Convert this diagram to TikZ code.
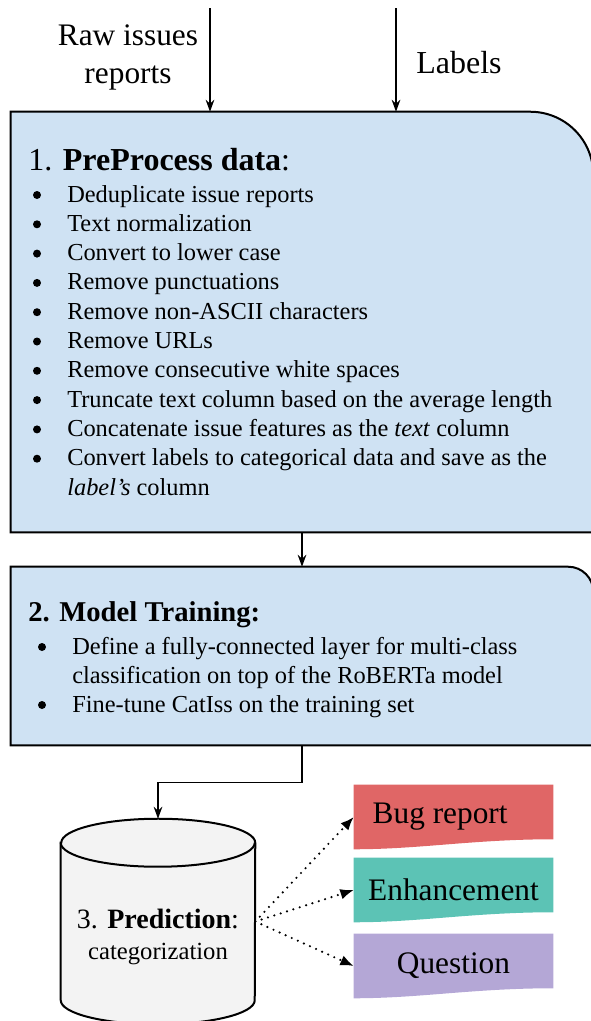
\documentclass[tikz,border=0pt]{standalone}
\usepackage{fontspec}
\setmainfont{Liberation Serif}
\usetikzlibrary{positioning,arrows.meta,backgrounds}

\definecolor{stepblue}{HTML}{CFE2F3}
\definecolor{bugred}{HTML}{E06666}
\definecolor{enhgreen}{HTML}{5CC3B5}
\definecolor{quepurple}{HTML}{B4A7D6}
\definecolor{dbgray}{HTML}{F3F3F3}

\begin{document}
\begin{tikzpicture}[x=0.75pt,y=-0.75pt]
  \tikzset{
    stepframe/.style={draw=none,inner sep=0pt,minimum width=436.5pt},
    boxline/.style={draw=black,line width=1.5pt,fill=stepblue},
    dbline/.style={draw=black,line width=1.5pt,fill=dbgray},
    flow/.style={line width=1.1pt,-{Stealth[length=9pt,width=6.5pt]}},
    guess/.style={line width=1.8pt,line cap=round,dash pattern=on 0pt off 5pt,-{Latex[length=10pt,width=8pt]}},
    doc/.style={inner sep=0pt,minimum width=149.25pt,minimum height=48pt,font=\fontsize{23.5}{28}\selectfont},
    item/.style={anchor=base west,inner sep=0pt,font=\fontsize{18.3}{22}\selectfont},
    head/.style={anchor=base west,inner sep=0pt},
    dot/.style={fill=black}
  }
  \useasboundingbox (0,0) rectangle (590,1021);

  % inputs
  \node[align=center,font=\fontsize{23.5}{28.5}\selectfont] (raw) at (128,57) {Raw issues\\reports};
  \node[font=\fontsize{24}{28}\selectfont] (lbl) at (459,63) {Labels};
  \coordinate (rawin) at (210,8);
  \coordinate (lblin) at (396,8);

  % step 1
  \node[stepframe,minimum height=315pt] (pre) at (302,322) {};
  \node[head,font=\fontsize{24}{28}\selectfont] (pretitle) at (28,170) {1. \textbf{PreProcess data}:};
  \foreach \txt [count=\i from 0] in {Deduplicate issue reports, Text normalization,
      Convert to lower case, Remove punctuations, Remove non-ASCII characters,
      Remove URLs, Remove consecutive white spaces,
      Truncate text column based on the average length,
      Concatenate issue features as the \textit{text} column,
      Convert labels to categorical data and save as the}
  {
    \node[item] (pre\i) at (67,{202+29.3*\i}) {\txt};
    \fill[dot] (37,{195+29.3*\i}) circle (3pt);
  }
  \node[item] (pre10) at (67,495) {\textit{label's} column};

  % step 2
  \node[stepframe,minimum height=133.5pt] (train) at (302,656) {};
  \node[head,font=\fontsize{21.5}{26}\selectfont] (traintitle) at (28,621) {\textbf{2. Model Training:}};
  \node[item] (train0) at (72,654) {Define a fully-connected layer for multi-class};
  \node[item] (train0b) at (72,683) {classification on top of the RoBERTa model};
  \node[item] (train1) at (72,712) {Fine-tune CatIss on the training set};
  \foreach \y in {647,705}
    \fill[dot] (42,\y) circle (3pt);

  % step 3
  \node[inner sep=0pt,minimum width=145.5pt,minimum height=153.75pt] (db) at (158,921.5) {};
  \node[align=center,font=\fontsize{21}{23.5}\selectfont] (dbtext) at (158,937)
        {3. \textbf{Prediction}:\\{\fontsize{18.5}{22}\selectfont categorization}};

  % categories
  \node[doc] (bug) at (453.5,817) {Bug report\kern20pt};
  \node[doc] (enh) at (453.5,890) {Enhancement};
  \node[doc] (que) at (453.5,966) {Question};

  \begin{scope}[on background layer]
    \draw[boxline] (pre.south east) -- (pre.south west) -- (pre.north west)
      -- ([xshift=-47.25pt]pre.north east) arc[start angle=90,end angle=0,radius=47.25pt] -- cycle;
    \draw[boxline] (train.south east) -- (train.south west) -- (train.north west)
      -- ([xshift=-18.75pt]train.north east) arc[start angle=90,end angle=0,radius=18.75pt] -- cycle;
    \draw[dbline] ([yshift=-18pt]db.north west) -- ([yshift=18pt]db.south west)
      arc[start angle=180,end angle=360,x radius=72.75pt,y radius=18pt]
      -- ([yshift=-18pt]db.north east)
      arc[start angle=0,end angle=180,x radius=72.75pt,y radius=18pt] -- cycle;
    \draw[dbline,fill=none] ([yshift=-18pt]db.north west)
      arc[start angle=180,end angle=360,x radius=72.75pt,y radius=18pt];
    \foreach \c/\col in {bug/bugred,enh/enhgreen,que/quepurple}
      \fill[\col] (\c.north west) -- (\c.north east) -- ([yshift=7.5pt]\c.south east)
        .. controls ([xshift=-60pt,yshift=7.5pt]\c.south east) and ([xshift=50pt]\c.south west) .. (\c.south west) -- cycle;
  \end{scope}

  \draw[flow] (rawin) -- (rawin |- pre.north);
  \draw[flow] (lblin) -- (lblin |- pre.north);
  \draw[flow] (pre.south) -- (train.north);
  \draw[flow] (train.south) -- ++(0,37) -| (db.north);
  \foreach \c in {bug,enh,que}
    \draw[guess] (db.east) -- (\c.west);
\end{tikzpicture}
\end{document}
